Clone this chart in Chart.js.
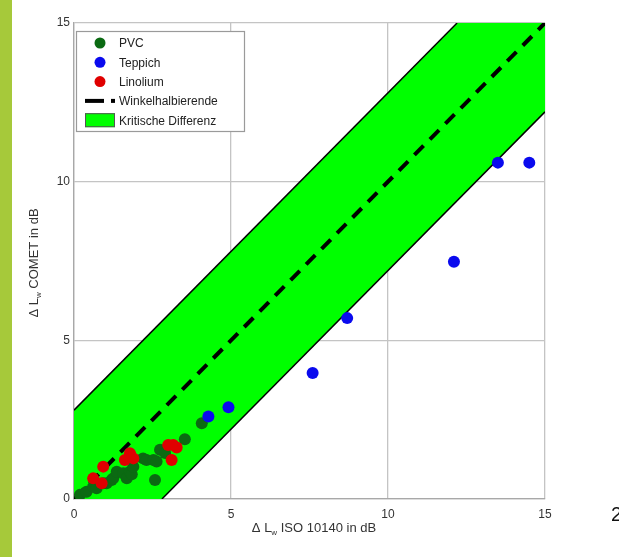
<!DOCTYPE html>
<html>
<head>
<meta charset="utf-8">
<script src="https://cdn.jsdelivr.net/npm/chart.js@4/dist/chart.umd.min.js"></script>
<style>
  body { margin: 0; background: #fff; overflow: hidden; }
  #bar { position: absolute; left: 0; top: 0; width: 12px; height: 557px; background: #a6c93a; }
  #wrap { position: absolute; left: 0; top: 0; width: 619px; height: 557px; }
  #page { position: absolute; left: 611px; top: 503px; font: 20px "Liberation Sans", Arial, sans-serif; color: #111; }
</style>
</head>
<body>
<div id="bar"></div>
<div id="wrap"><canvas id="chart" width="619" height="557"></canvas></div>
<div id="page">2</div>
<script>
// measured level differences (dB)
const pvcX = [0.19, 0.40, 0.61, 0.72, 0.93, 1.04, 1.20, 1.25, 1.36, 1.57, 1.68, 1.78, 1.84, 1.89, 2.20, 2.31, 2.53, 2.58, 2.63, 2.74, 2.90, 3.53, 4.07];
const pvcY = [0.13, 0.23, 0.39, 0.34, 0.50, 0.50, 0.60, 0.65, 0.86, 0.81, 0.65, 0.86, 0.78, 1.02, 1.28, 1.23, 1.23, 0.60, 1.18, 1.55, 1.45, 1.88, 2.39];

const teppichX = [4.28, 4.92, 7.60, 8.70, 12.10, 13.50, 14.50];
const teppichY = [2.60, 2.89, 3.97, 5.70, 7.48, 10.60, 10.60];

const linoliumX = [0.61, 0.88, 0.93, 1.62, 1.78, 1.80, 1.89, 3.00, 3.16, 3.27, 3.11];
const linoliumY = [0.65, 0.50, 1.02, 1.23, 1.44, 1.39, 1.28, 1.70, 1.70, 1.62, 1.23];

const axisTicks = [0, 5, 10, 15];
const axisMax = 15;
const critDiff = 2.8;

const font = '"Liberation Sans", Arial, sans-serif';
const pts = (xs, ys) => xs.map((x, i) => ({ x: x, y: ys[i] }));

const bandPts = [
  { x: 0, y: 0 }, { x: 0, y: critDiff }, { x: axisMax - critDiff, y: axisMax },
  { x: axisMax, y: axisMax }, { x: axisMax, y: axisMax - critDiff }, { x: critDiff, y: 0 }
];

const colPVC = '#0b6a12', colTep = '#0a0aee', colLin = '#e00000', colBand = '#00ff00';

// axis titles with subscript w
function subTitle(ctx, x, y, rest, size) {
  ctx.font = size + 'px ' + font;
  const a = '\u0394 L';
  ctx.save();
  const wA = ctx.measureText(a).width;
  ctx.font = (size - 5) + 'px ' + font;
  const wS = ctx.measureText('w').width;
  ctx.font = size + 'px ' + font;
  const wR = ctx.measureText(rest).width;
  let cx = x - (wA + wS + wR) / 2;
  ctx.textAlign = 'left';
  ctx.textBaseline = 'alphabetic';
  ctx.fillText(a, cx, y); cx += wA;
  ctx.font = (size - 5) + 'px ' + font;
  ctx.fillText('w', cx, y + 3); cx += wS;
  ctx.font = size + 'px ' + font;
  ctx.fillText(rest, cx, y);
  ctx.restore();
}

const extras = {
  id: 'extras',
  afterDraw(chart) {
    const ctx = chart.ctx;
    ctx.save();
    ctx.fillStyle = '#333';
    subTitle(ctx, 314, 532, ' ISO 10140 in dB', 13);
    ctx.translate(38, 263);
    ctx.rotate(-Math.PI / 2);
    subTitle(ctx, 0, 0, ' COMET in dB', 13);
    ctx.restore();

    // legend box
    const lx = 76, ly = 31, lw = 168, lh = 100;
    ctx.save();
    ctx.fillStyle = '#fff';
    ctx.fillRect(lx, ly, lw, lh);
    ctx.strokeStyle = '#9a9a9a';
    ctx.lineWidth = 1.2;
    ctx.strokeRect(lx + 0.5, ly + 0.5, lw, lh);
    const rows = [
      { t: 'PVC', c: colPVC }, { t: 'Teppich', c: colTep }, { t: 'Linolium', c: colLin },
      { t: 'Winkelhalbierende', line: true }, { t: 'Kritische Differenz', box: true }
    ];
    ctx.font = '12px ' + font;
    ctx.textBaseline = 'middle';
    rows.forEach((r, i) => {
      const y = 43 + i * 19.3;
      if (r.c) {
        ctx.fillStyle = r.c;
        ctx.beginPath(); ctx.arc(100, y, 5.5, 0, Math.PI * 2); ctx.fill();
      } else if (r.line) {
        ctx.fillStyle = '#000';
        ctx.fillRect(85, y - 2, 19, 4);
        ctx.fillRect(111, y - 2, 4, 4);
      } else if (r.box) {
        ctx.fillStyle = colBand;
        ctx.fillRect(85, y - 7, 30, 14);
        ctx.strokeStyle = '#555';
        ctx.lineWidth = 1;
        ctx.strokeRect(85.5, y - 6.5, 29, 13);
      }
      ctx.fillStyle = '#222';
      ctx.fillText(r.t, 119, y + 1);
    });
    ctx.restore();
  }
};

const scaleOpts = (isY) => ({
  type: 'linear',
  min: 0,
  max: axisMax,
  afterBuildTicks: s => { s.ticks = axisTicks.map(v => ({ value: v })); },
  afterFit: s => { if (isY) s.width = 74; else s.height = 58; },
  grid: { color: '#c4c4c4', lineWidth: 1.3, drawTicks: false },
  border: { color: '#a8a8a8', width: 1.3 },
  ticks: {
    color: '#333',
    font: { family: font, size: 12 },
    padding: isY ? 4 : 8,
    maxRotation: 0,
    autoSkip: false
  }
});

new Chart(document.getElementById('chart'), {
  type: 'scatter',
  data: {
    datasets: [
      { label: 'PVC', data: pts(pvcX, pvcY), backgroundColor: colPVC, borderWidth: 0, pointRadius: 6, order: 3 },
      { label: 'Teppich', data: pts(teppichX, teppichY), backgroundColor: colTep, borderWidth: 0, pointRadius: 6, order: 2 },
      { label: 'Linolium', data: pts(linoliumX, linoliumY), backgroundColor: colLin, borderWidth: 0, pointRadius: 6, order: 1 },
      { label: 'Winkelhalbierende', data: [{ x: 0, y: 0 }, { x: axisMax, y: axisMax }],
        showLine: true, borderColor: '#000', borderWidth: 4, borderDash: [13, 9], pointRadius: 0, order: 4 },
      { label: 'oben', data: [{ x: 0, y: critDiff }, { x: axisMax - critDiff, y: axisMax }],
        showLine: true, borderColor: '#000', borderWidth: 1.5, pointRadius: 0, order: 5 },
      { label: 'unten', data: [{ x: critDiff, y: 0 }, { x: axisMax, y: axisMax - critDiff }],
        showLine: true, borderColor: '#000', borderWidth: 1.5, pointRadius: 0, order: 5 },
      { label: 'Kritische Differenz', data: bandPts, showLine: true, fill: 'shape',
        backgroundColor: colBand, borderWidth: 0, pointRadius: 0, order: 6 }
    ]
  },
  options: {
    responsive: false,
    animation: false,
    events: [],
    layout: { padding: { left: 0, top: 23, right: 74, bottom: 0 } },
    plugins: { legend: { display: false }, tooltip: { enabled: false } },
    scales: { x: scaleOpts(false), y: scaleOpts(true) }
  },
  plugins: [extras]
});
</script>
</body>
</html>
